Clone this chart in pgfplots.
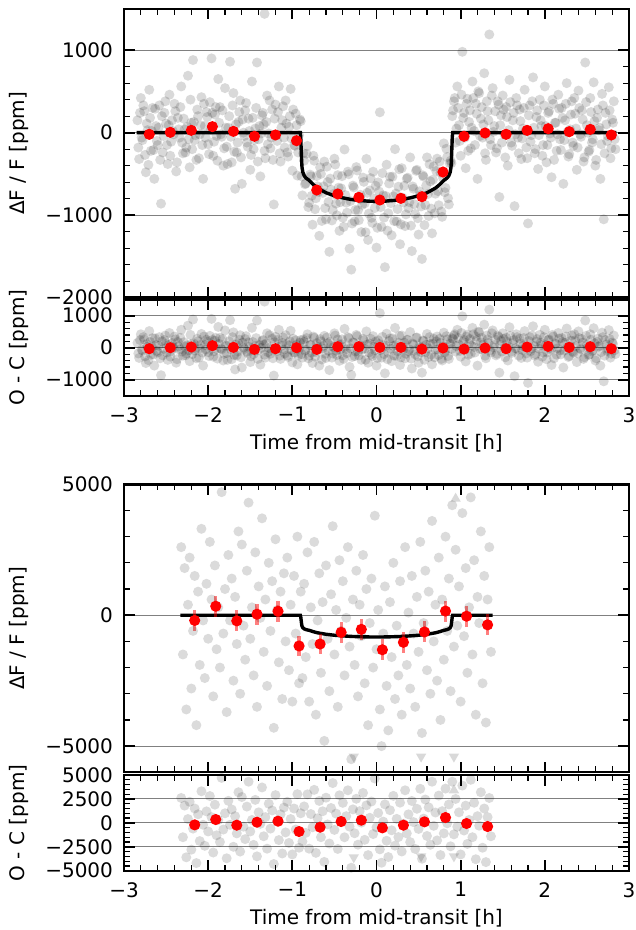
\documentclass[border=0pt]{standalone}
\usepackage{fontspec}
\setmainfont{DejaVu Sans}
\usepackage{pgfplots}
\usepackage{pgfplotstable}
\pgfplotsset{compat=1.18}

\pgfplotstableread{
t f r
-2.84 150 150
-2.82 -320 -320
-2.80 420 420
-2.78 -90 -90
-2.76 260 260
-2.74 -480 -480
-2.72 30 30
-2.70 520 520
-2.68 -220 -220
-2.66 300 300
-2.64 -560 -560
-2.62 80 80
-2.60 -150 -150
-2.58 330 330
-2.56 -860 -860
-2.54 -240 -240
-2.52 240 240
-2.50 110 110
-2.48 -380 -380
-2.46 460 460
-2.44 -110 -110
-2.42 20 20
-2.40 350 350
-2.38 -470 -470
-2.36 180 180
-2.34 -60 -60
-2.32 560 560
-2.30 -250 -250
-2.28 40 40
-2.26 -180 -180
-2.24 690 690
-2.22 -420 -420
-2.20 120 120
-2.18 880 880
-2.16 -90 -90
-2.14 -330 -330
-2.12 200 200
-2.10 -20 -20
-2.08 430 430
-2.06 -560 -560
-2.04 80 80
-2.02 250 250
-2.00 -140 -140
-1.98 370 370
-1.96 900 900
-1.94 -280 -280
-1.92 220 220
-1.90 -40 -40
-1.88 650 650
-1.86 310 310
-1.84 -50 -50
-1.82 -400 -400
-1.80 540 540
-1.78 -170 -170
-1.76 60 60
-1.74 860 860
-1.72 -360 -360
-1.70 480 480
-1.68 -680 -680
-1.66 -240 -240
-1.64 130 130
-1.62 390 390
-1.60 -620 -620
-1.58 0 0
-1.56 270 270
-1.54 -120 -120
-1.52 170 170
-1.50 -450 -450
-1.48 620 620
-1.46 -200 -200
-1.44 50 50
-1.42 850 850
-1.40 -80 -80
-1.38 -530 -530
-1.36 210 210
-1.34 100 100
-1.33 1440 1440
-1.32 -310 -310
-1.30 450 450
-1.28 -10 -10
-1.26 -190 -190
-1.24 280 280
-1.22 -870 -870
-1.20 340 340
-1.18 -100 -100
-1.16 560 560
-1.14 -350 -350
-1.12 150 150
-1.10 -60 -60
-1.08 390 390
-1.06 -240 -240
-1.04 70 70
-1.02 530 530
-1.00 -460 -460
-0.98 -150 -150
-0.96 230 230
-0.94 -520 -520
-0.92 -30 -30
-0.90 140 240
-0.88 -760 -310
-0.86 -340 180
-0.84 -615 -60
-0.82 -160 420
-0.80 -850 -250
-0.78 -530 90
-0.76 -1115 -480
-0.74 -340 310
-0.72 -795 -130
-0.70 -650 30
-0.68 -1250 -560
-0.66 -500 200
-0.64 -730 -20
-0.62 -350 370
-0.60 -1050 -320
-0.58 -597 140
-0.56 -1444 -700
-0.54 -691 60
-0.52 -938 -180
-0.50 -315 450
-0.48 -860 -90
-0.46 -515 260
-0.44 -1190 -410
-0.42 -675 110
-0.40 -1030 -240
-0.38 -204 590
-0.36 -848 -50
-0.34 -472 330
-0.32 -1406 -600
-0.30 -1660 -850
-0.28 -642 170
-0.26 -1075 -260
-0.24 -417 400
-0.22 -940 -120
-0.20 -802 20
-0.18 -1204 -380
-0.16 -545 280
-0.14 -857 -30
-0.12 -318 510
-0.10 -1300 -470
-0.08 -701 130
-0.06 -1032 -200
-0.04 -473 360
-0.02 -913 -80
0.00 -1393 -560
0.02 -603 230
0.04 247 1080
0.06 -1142 -310
0.08 -761 70
0.10 -1630 -800
0.12 -388 440
0.14 -977 -150
0.16 -535 290
0.18 -1244 -420
0.20 -772 50
0.22 -200 620
0.24 -1077 -260
0.26 -655 160
0.28 -1352 -540
0.30 -430 380
0.32 -846 -40
0.34 -1132 -330
0.36 -558 240
0.38 -914 -120
0.40 -300 490
0.42 -1435 -650
0.44 -680 100
0.46 -985 -210
0.48 -450 320
0.50 -1235 -470
0.52 -758 0
0.54 -1531 -780
0.56 -534 210
0.58 -877 -140
0.60 -300 430
0.62 -1010 -290
0.64 -590 120
0.66 -1220 -520
0.68 -410 280
0.70 -740 -60
0.72 -315 350
0.74 -880 -230
0.76 -485 150
0.78 -1020 -400
0.80 -130 470
0.82 -670 -90
0.84 -295 260
0.86 -870 -350
0.88 -340 110
0.90 200 300
0.92 380 380
0.94 -120 -120
0.96 560 560
0.98 90 90
1.00 -280 -280
1.02 980 980
1.04 240 240
1.06 -430 -430
1.08 410 410
1.10 130 130
1.12 -190 -190
1.14 620 620
1.16 20 20
1.18 350 350
1.20 -560 -560
1.22 480 480
1.24 170 170
1.26 -60 -60
1.28 720 720
1.30 -330 -330
1.32 260 260
1.34 1190 1190
1.36 -150 -150
1.38 540 540
1.40 80 80
1.42 -240 -240
1.44 380 380
1.46 -780 -780
1.48 210 210
1.50 450 450
1.52 -20 -20
1.54 310 310
1.56 -400 -400
1.58 640 640
1.60 -120 -120
1.62 150 150
1.64 -890 -890
1.66 420 420
1.68 -60 -60
1.70 280 280
1.72 -320 -320
1.74 50 50
1.76 520 520
1.78 -180 -180
1.80 -1100 -1100
1.82 330 330
1.84 -30 -30
1.86 670 670
1.88 -250 -250
1.90 190 190
1.92 -440 -440
1.94 400 400
1.96 80 80
1.98 -150 -150
2.00 560 560
2.02 -360 -360
2.04 240 240
2.06 -10 -10
2.08 -540 -540
2.10 350 350
2.12 120 120
2.14 -220 -220
2.16 460 460
2.18 -80 -80
2.20 300 300
2.22 -620 -620
2.24 150 150
2.26 600 600
2.28 -290 -290
2.30 40 40
2.32 380 380
2.34 -160 -160
2.36 230 230
2.38 -450 -450
2.40 510 510
2.42 -20 -20
2.44 270 270
2.46 -350 -350
2.48 850 850
2.50 90 90
2.52 -230 -230
2.54 420 420
2.56 -120 -120
2.58 610 610
2.60 -400 -400
2.62 180 180
2.64 30 30
2.66 -560 -560
2.68 470 470
2.70 -1050 -1050
2.72 240 240
2.74 -100 -100
2.76 550 550
2.78 -310 -310
2.80 160 160
2.82 380 380
2.84 -200 -200
}\topdata

\pgfplotstableread{
t f r
-2.83 -180 -180
-2.81 240 240
-2.79 -60 -60
-2.77 330 330
-2.75 -270 -270
-2.73 110 110
-2.71 -390 -390
-2.69 180 180
-2.67 20 20
-2.65 -210 -210
-2.63 290 290
-2.61 -100 -100
-2.59 60 60
-2.57 -330 -330
-2.55 200 200
-2.53 -40 -40
-2.51 380 380
-2.49 -150 -150
-2.47 90 90
-2.45 -280 -280
-2.43 150 150
-2.41 -20 -20
-2.39 260 260
-2.37 -360 -360
-2.35 40 40
-2.33 310 310
-2.31 -120 -120
-2.29 170 170
-2.27 -240 -240
-2.25 70 70
-2.23 -80 -80
-2.21 400 400
-2.19 -200 -200
-2.17 130 130
-2.15 -30 -30
-2.13 280 280
-2.11 -310 -310
-2.09 90 90
-2.07 -150 -150
-2.05 350 350
-2.03 -60 -60
-2.01 190 190
-1.99 -260 -260
-1.97 30 30
-1.95 240 240
-1.93 -110 -110
-1.91 310 310
-1.89 -340 -340
-1.87 120 120
-1.85 -20 -20
-1.83 270 270
-1.81 -190 -190
-1.79 60 60
-1.77 -380 -380
-1.75 200 200
-1.73 -50 -50
-1.71 330 330
-1.69 -230 -230
-1.67 100 100
-1.65 -120 -120
-1.63 250 250
-1.61 -300 -300
-1.59 160 160
-1.57 -40 -40
-1.55 360 360
-1.53 -170 -170
-1.51 20 20
-1.49 -270 -270
-1.47 180 180
-1.45 -90 -90
-1.43 300 300
-1.41 -350 -350
-1.39 80 80
-1.37 -10 -10
-1.35 240 240
-1.33 -220 -220
-1.31 130 130
-1.29 -140 -140
-1.27 390 390
-1.25 -60 -60
-1.23 -330 -330
-1.21 170 170
-1.19 -30 -30
-1.17 250 250
-1.15 -250 -250
-1.13 60 60
-1.11 320 320
-1.09 -180 -180
-1.07 110 110
-1.05 -290 -290
-1.03 200 200
-1.01 -70 -70
-0.99 280 280
-0.97 -160 -160
-0.95 90 90
-0.93 -240 -240
-0.91 160 160
-0.89 -530 -200
-0.87 -250 250
-0.85 -625 -90
-0.83 -255 300
-0.81 -902 -330
-0.79 -508 80
-0.77 -765 -160
-0.75 -280 350
-0.73 -928 -280
-0.71 -525 140
-0.69 -717 -40
-0.67 -420 270
-0.65 -1070 -370
-0.63 -652 60
-0.61 -914 -190
-0.59 -412 320
-0.57 -840 -100
-0.55 -557 190
-0.53 -1064 -310
-0.51 -741 20
-0.49 -387 380
-0.47 -1002 -230
-0.45 -667 110
-0.43 -842 -60
-0.41 -527 260
-0.39 -1142 -350
-0.37 -756 40
-0.35 -970 -170
-0.33 -504 300
-0.31 -828 -20
-0.29 -1101 -290
-0.27 -663 150
-0.25 -936 -120
-0.23 -458 360
-0.21 -1061 -240
-0.19 -753 70
-0.17 -874 -50
-0.15 -596 230
-0.13 -1207 -380
-0.11 -729 100
-0.09 -980 -150
-0.07 -551 280
-0.05 -1092 -260
-0.03 -803 30
-0.01 -643 190
0.01 -1153 -320
0.03 -713 120
0.05 -902 -70
0.07 -491 340
0.09 -1030 -200
0.11 -769 60
0.13 -1187 -360
0.15 -616 210
0.17 -854 -30
0.19 -533 290
0.21 -1071 -250
0.23 -738 80
0.25 -926 -110
0.27 -443 370
0.29 -1111 -300
0.31 -788 20
0.33 -644 160
0.35 -990 -190
0.37 -546 250
0.39 -842 -50
0.41 -1127 -340
0.43 -652 130
0.45 -867 -90
0.47 -462 310
0.49 -1037 -270
0.51 -711 50
0.53 -894 -140
0.55 -517 230
0.57 -1120 -380
0.59 -642 90
0.61 -744 -20
0.63 -382 330
0.65 -920 -220
0.67 -570 120
0.69 -977 -300
0.71 -465 200
0.73 -708 -60
0.75 -350 280
0.77 -955 -350
0.79 -548 40
0.81 -722 -150
0.83 -195 360
0.85 -795 -260
0.87 -370 130
0.89 -370 -40
0.91 270 270
0.93 420 420
0.95 50 50
0.97 300 300
0.99 -100 -100
1.01 460 460
1.03 180 180
1.05 -60 -60
1.07 350 350
1.09 -220 -220
1.11 270 270
1.13 60 60
1.15 420 420
1.17 -150 -150
1.19 230 230
1.21 500 500
1.23 -40 -40
1.25 310 310
1.27 100 100
1.29 -250 -250
1.31 380 380
1.33 150 150
1.35 -80 -80
1.37 450 450
1.39 10 10
1.41 260 260
1.43 -190 -190
1.45 340 340
1.47 90 90
1.49 -120 -120
1.51 280 280
1.53 -300 -300
1.55 190 190
1.57 30 30
1.59 370 370
1.61 -160 -160
1.63 240 240
1.65 -20 -20
1.67 330 330
1.69 -250 -250
1.71 140 140
1.73 -70 -70
1.75 300 300
1.77 20 20
1.79 -310 -310
1.81 210 210
1.83 -110 -110
1.85 380 380
1.87 60 60
1.89 -200 -200
1.91 270 270
1.93 -30 -30
1.95 150 150
1.97 -280 -280
1.99 330 330
2.01 80 80
2.03 -150 -150
2.05 260 260
2.07 -60 -60
2.09 400 400
2.11 -330 -330
2.13 120 120
2.15 -20 -20
2.17 290 290
2.19 -210 -210
2.21 180 180
2.23 -90 -90
2.25 350 350
2.27 10 10
2.29 -260 -260
2.31 220 220
2.33 -120 -120
2.35 420 420
2.37 50 50
2.39 -180 -180
2.41 300 300
2.43 -50 -50
2.45 160 160
2.47 -300 -300
2.49 370 370
2.51 0 0
2.53 -210 -210
2.55 250 250
2.57 -80 -80
2.59 140 140
2.61 -330 -330
2.63 280 280
2.65 60 60
2.67 -140 -140
2.69 330 330
2.71 -250 -250
2.73 100 100
2.75 -40 -40
2.77 270 270
2.79 -190 -190
2.81 120 120
2.83 -80 -80
}\topdatab

\pgfplotstableread{
t f
-2.70 -20
-2.45 4
-2.20 28
-1.95 73
-1.70 16
-1.45 -44
-1.20 -28
-0.95 -97
-0.71 -695
-0.46 -743
-0.21 -784
0.04 -816
0.29 -796
0.54 -776
0.79 -477
1.04 -44
1.29 -4
1.54 -20
1.79 28
2.04 48
2.29 12
2.54 40
2.79 -28
}\topbin

\pgfplotstableread{
t r
-2.70 -31
-2.45 0
-2.20 21
-1.95 63
-1.70 10
-1.45 -52
-1.20 -31
-0.95 0
-0.71 -52
-0.46 31
-0.21 31
0.04 10
0.29 10
0.54 -42
0.79 -10
1.04 -42
1.29 -10
1.54 -31
1.79 21
2.04 42
2.29 10
2.54 31
2.79 -31
}\topbinres

\pgfplotstableread{
t f r
-2.32 2600 2600
-2.30 -1500 -1500
-2.28 1800 1800
-2.26 -3600 -3600
-2.24 400 400
-2.22 2200 2200
-2.20 -2800 -2800
-2.18 -600 -600
-2.16 1500 1500
-2.14 -4200 -4200
-2.12 900 900
-2.10 -1900 -1900
-2.08 3300 3300
-2.06 -200 -200
-2.04 -2400 -2400
-2.02 1200 1200
-2.00 -900 -900
-1.98 2800 2800
-1.96 600 600
-1.94 -3100 -3100
-1.92 1900 1900
-1.90 -1300 -1300
-1.88 300 300
-1.86 -2000 -2000
-1.84 4700 4700
-1.82 -700 -700
-1.80 1000 1000
-1.78 -3700 -3700
-1.76 2300 2300
-1.74 -200 -200
-1.72 1400 1400
-1.70 -2500 -2500
-1.68 700 700
-1.66 -1100 -1100
-1.64 3200 3200
-1.62 -3000 -3000
-1.60 2700 2700
-1.58 -400 -400
-1.56 -1700 -1700
-1.54 1700 1700
-1.52 4300 4300
-1.50 -900 -900
-1.48 300 300
-1.46 -2300 -2300
-1.44 2400 2400
-1.42 -3500 -3500
-1.40 1100 1100
-1.38 -100 -100
-1.36 3700 3700
-1.34 -1400 -1400
-1.32 600 600
-1.30 -2700 -2700
-1.28 2000 2000
-1.26 -600 -600
-1.24 1300 1300
-1.22 -4300 -4300
-1.20 2900 2900
-1.18 200 200
-1.16 -1800 -1800
-1.14 900 900
-1.12 -3200 -3200
-1.10 1600 1600
-1.08 -1000 -1000
-1.06 2200 2200
-1.04 -2100 -2100
-1.02 400 400
-1.00 -3300 -3300
-0.98 1500 1500
-0.96 -700 -700
-0.94 3000 3000
-0.92 -2600 -2600
-0.90 900 1000
-0.88 -2400 -1950
-0.86 1200 1720
-0.84 -1600 -1045
-0.82 2400 2980
-0.80 -3300 -2700
-0.78 300 920
-0.76 -1100 -465
-0.74 2800 3450
-0.72 -3800 -3135
-0.70 -200 480
-0.68 1600 2290
-0.66 -2200 -1500
-0.64 500 1210
-0.62 -4800 -4080
-0.60 1900 2630
-0.58 -900 -163
-0.56 -2900 -2156
-0.54 800 1551
-0.52 3400 4158
-0.50 -1500 -735
-0.48 200 970
-0.46 -3500 -2725
-0.44 2100 2880
-0.42 -600 185
-0.40 1300 2090
-0.38 -2300 -1506
-0.36 -100 698
-0.34 2600 3402
-0.32 -1200 -394
-0.30 -5500 -4690
-0.28 600 1412
-0.26 -1900 -1085
-0.24 1700 2517
-0.22 -3100 -2280
-0.20 400 1222
-0.18 -800 24
-0.16 2300 3125
-0.14 -2600 -1773
-0.12 1000 1828
-0.10 -4200 -3370
-0.08 -300 531
-0.06 1400 2232
-0.04 -2000 -1167
-0.02 3800 4633
0.00 -1300 -467
0.02 200 1033
0.04 -3600 -2767
0.06 -5000 -4168
0.08 -700 131
0.10 1100 1930
0.12 -2700 -1872
0.14 -4400 -3573
0.16 500 1325
0.18 -1600 -776
0.20 2000 2822
0.22 -3200 -2380
0.24 -400 417
0.26 -2300 -1485
0.28 1300 2112
0.30 -3800 -2990
0.32 -900 -94
0.34 2600 3402
0.36 -1900 -1102
0.38 100 894
0.40 -2800 -2010
0.42 1500 2285
0.44 -700 80
0.46 -3500 -2725
0.48 700 1470
0.50 -1400 -635
0.52 2800 3558
0.54 -4500 -3749
0.56 -300 444
0.58 1700 2437
0.60 -2100 -1370
0.62 900 1620
0.64 -3000 -2290
0.66 3600 4300
0.68 -1000 -310
0.70 400 1080
0.72 -2500 -1835
0.74 2200 2850
0.76 -4000 -3365
0.78 600 1220
0.80 -1700 -1100
0.82 3000 3580
0.84 -600 -45
0.86 1400 1920
0.88 -2900 -2450
0.90 4200 4300
0.92 -1200 -1200
0.94 2500 2500
0.96 -400 -400
0.98 1100 1100
1.00 -3300 -3300
1.02 3900 3900
1.04 -800 -800
1.06 1800 1800
1.08 -2200 -2200
1.10 300 300
1.12 4500 4500
1.14 -1500 -1500
1.16 2100 2100
1.18 -3800 -3800
1.20 700 700
1.22 -300 -300
1.24 3200 3200
1.26 -2600 -2600
1.28 1500 1500
1.30 -4100 -4100
1.32 600 600
1.34 2600 2600
1.36 -1400 -1400
}\botdata

\pgfplotstableread{
t f e r
-2.16 -200 400 -209
-1.91 343 400 348
-1.66 -216 400 -244
-1.42 38 400 70
-1.17 152 400 174
-0.92 -1175 400 -906
-0.67 -1100 400 -453
-0.42 -655 400 139
-0.18 -540 400 279
0.07 -1320 400 -523
0.32 -1035 400 -244
0.57 -640 400 105
0.82 158 400 557
1.07 -38 400 -70
1.32 -368 400 -383
}\botbin

\pgfplotsset{
  panel/.style={
    scale only axis, width=252.5pt, xmin=-3, xmax=3,
    axis line style={line width=1.2pt},
    tick align=inside, xtick pos=both, ytick pos=both,
    major tick length=5.3pt, minor tick length=3pt,
    major tick style={line width=0.9pt, black},
    minor tick style={line width=0.6pt, black},
    xtick={-3,-2,-1,0,1,2,3}, minor x tick num=4, minor y tick num=4,
    ymajorgrids, major grid style={draw=gray, line width=0.5pt},
    tick label style={font=\fontsize{10}{12}\selectfont},
    label style={font=\fontsize{10}{12}\selectfont},
    xticklabel style={yshift=-2.2pt},
    yticklabel style={xshift=-2pt},
    ylabel style={at={(axis description cs:-0.208,0.5)}, anchor=center},
    xlabel style={at={(axis description cs:0.5,0)}, anchor=center, yshift=-24pt},
  },
  greypts/.style={only marks, mark=*, mark size=2.5pt,
    mark options={draw opacity=0, line width=0pt, fill=black, fill opacity=#1}},
  reddots/.style={only marks, mark=*, mark size=2.8pt,
    mark options={draw opacity=0, line width=0pt, fill=red, fill opacity=1}},
  modelline/.style={black, line width=1.7pt, no marks},
  downarr/.style={only marks, mark=triangle*, mark size=3pt,
    mark options={draw opacity=0, line width=0pt, fill=black, fill opacity=0.15, rotate=180}},
  uparr/.style={only marks, mark=triangle*, mark size=3pt,
    mark options={draw opacity=0, line width=0pt, fill=black, fill opacity=0.15}},
}

\begin{document}
\begin{tikzpicture}
\useasboundingbox (0,0) rectangle (318pt,-465pt);

% top transit
\begin{axis}[panel, at={(62pt,-4.45pt)}, anchor=north west, height=144.4pt,
  ymin=-2000, ymax=1500, ytick={-2000,-1000,0,1000},
  yticklabels={−2000,−1000,0,1000}, xticklabels={},
  ylabel={ΔF / F [ppm]}]
\addplot[greypts=0.15] table[x=t,y=f] {\topdata};
\addplot[greypts=0.15] table[x=t,y=f] {\topdatab};
\addplot[modelline] coordinates {(-2.85,0) (-0.905,0) (-0.90,-60) (-0.895,-200) (-0.89,-330) (-0.885,-420) (-0.875,-480) (-0.86,-520) (-0.84,-548) (-0.80,-578) (-0.75,-630) (-0.70,-672) (-0.60,-728) (-0.50,-765) (-0.40,-790) (-0.30,-810) (-0.20,-822) (-0.10,-830) (0,-833) (0.10,-830) (0.20,-822) (0.30,-810) (0.40,-790) (0.50,-765) (0.60,-728) (0.70,-672) (0.75,-630) (0.80,-578) (0.84,-548) (0.86,-520) (0.875,-480) (0.885,-420) (0.89,-330) (0.895,-200) (0.90,-60) (0.905,0) (2.85,0)};
\addplot[reddots] table[x=t,y=f] {\topbin};
\end{axis}

% top residuals
\begin{axis}[panel, at={(62pt,-149.85pt)}, anchor=north west, height=48pt,
  ymin=-1500, ymax=1500, ytick={-1000,0,1000},
  yticklabels={−1000,0,1000}, xticklabels={−3,−2,−1,0,1,2,3},
  ylabel={O - C [ppm]}, xlabel={Time from mid-transit [h]}]
\addplot[greypts=0.15] table[x=t,y=r] {\topdata};
\addplot[greypts=0.15] table[x=t,y=r] {\topdatab};
\addplot[reddots] table[x=t,y=r] {\topbinres};
\end{axis}

% bottom transit
\begin{axis}[panel, at={(62pt,-242.15pt)}, anchor=north west, height=144pt,
  ymin=-6000, ymax=5000, ytick={-5000,0,5000},
  yticklabels={−5000,0,5000}, xticklabels={},
  ylabel={ΔF / F [ppm]}]
\addplot[greypts=0.14] table[x=t,y=f] {\botdata};
\addplot[downarr] coordinates {(-0.27,-5400) (0.53,-5400) (0.92,-5400)};
\addplot[uparr] coordinates {(0.94,4450)};
\addplot[modelline] coordinates {(-2.33,0) (-0.905,0) (-0.90,-60) (-0.895,-200) (-0.89,-330) (-0.885,-420) (-0.875,-480) (-0.86,-520) (-0.84,-548) (-0.80,-578) (-0.75,-630) (-0.70,-672) (-0.60,-728) (-0.50,-765) (-0.40,-790) (-0.30,-810) (-0.20,-822) (-0.10,-830) (0,-833) (0.10,-830) (0.20,-822) (0.30,-810) (0.40,-790) (0.50,-765) (0.60,-728) (0.70,-672) (0.75,-630) (0.80,-578) (0.84,-548) (0.86,-520) (0.875,-480) (0.885,-420) (0.89,-330) (0.895,-200) (0.90,-60) (0.905,0) (1.38,0)};
\addplot[only marks, mark=*, mark size=2.8pt,
  mark options={draw opacity=0, line width=0pt, fill=red, fill opacity=1},
  error bars/.cd, y dir=both, y explicit, error mark=none,
  error bar style={draw=red, draw opacity=0.5, line width=1.6pt}]
  table[x=t,y=f,y error=e] {\botbin};
\end{axis}

% bottom residuals
\begin{axis}[panel, at={(62pt,-387.5pt)}, anchor=north west, height=47.85pt,
  ymin=-5000, ymax=5000, ytick={-5000,-2500,0,2500,5000},
  yticklabels={−5000,−2500,0,2500,5000}, xticklabels={−3,−2,−1,0,1,2,3},
  ylabel={O - C [ppm]}, xlabel={Time from mid-transit [h]}]
\addplot[greypts=0.14] table[x=t,y=r] {\botdata};
\addplot[downarr] coordinates {(-0.27,-3600) (0.53,-3500) (0.92,-3500)};
\addplot[uparr] coordinates {(0.92,3400)};
\addplot[reddots] table[x=t,y=r] {\botbin};
\end{axis}
\end{tikzpicture}
\end{document}
